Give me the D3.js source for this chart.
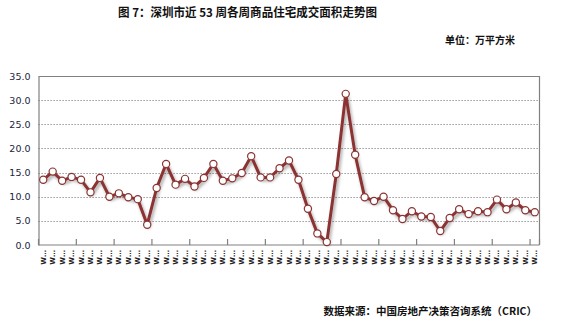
<!DOCTYPE html>
<html>
<head>
<meta charset="utf-8">
<script src="https://cdn.jsdelivr.net/npm/d3@7"></script>
<style>
  html, body { margin: 0; padding: 0; background: #fff; }
  svg { display: block; font-family: "Noto Sans CJK SC", "Noto Sans", sans-serif; }
</style>
</head>
<body>
<svg id="chart" width="577" height="323"></svg>
<script>
// Weekly residential transaction area (10k m²), last 53 weeks
const weeks = d3.range(1, 54).map(i => "W" + i);
const areaValues = [
  13.5, 15.2, 13.3, 14.1, 13.5, 10.9, 13.9, 10.0, 10.7, 9.9,
  9.5, 4.2, 11.8, 16.8, 12.5, 13.7, 12.1, 13.9, 16.8, 13.3,
  13.8, 14.9, 18.4, 14.0, 14.0, 15.9, 17.5, 13.5, 7.5, 2.4,
  0.6, 14.7, 31.3, 18.7, 9.9, 9.1, 10.0, 7.2, 5.4, 7.0,
  5.9, 5.8, 2.9, 5.6, 7.4, 6.4, 7.0, 6.8, 9.4, 7.4,
  8.8, 7.2, 6.8
];
const yTicks = [0, 5, 10, 15, 20, 25, 30, 35];

const titleText = "图 7：深圳市近 53 周各周商品住宅成交面积走势图";
const unitText = "单位：万平方米";
const sourceText = "数据来源：中国房地产决策咨询系统（CRIC）";

const svg = d3.select("#chart");
const plot = { left: 38.5, right: 539.5, top: 76, bottom: 245 };

const x = d3.scaleBand().domain(weeks).range([plot.left, plot.right]).padding(0);
const y = d3.scaleLinear().domain([0, 35]).range([plot.bottom, plot.top]);

// drop shadow for the series line
const defs = svg.append("defs");
const f = defs.append("filter").attr("id", "shadow")
  .attr("x", "-10%").attr("y", "-10%").attr("width", "120%").attr("height", "130%");
f.append("feDropShadow").attr("dx", 1.5).attr("dy", 2.5).attr("stdDeviation", 1.6)
  .attr("flood-color", "#000").attr("flood-opacity", 0.35);

// titles
svg.append("text").attr("x", 247.5).attr("y", 17).attr("text-anchor", "middle")
  .attr("font-size", 12).attr("font-weight", "bold").attr("fill", "#111")
  .attr("textLength", 259).attr("lengthAdjust", "spacingAndGlyphs").text(titleText);
svg.append("text").attr("x", 515).attr("y", 44).attr("text-anchor", "end")
  .attr("font-size", 10).attr("font-weight", "bold").attr("fill", "#111").text(unitText);
svg.append("text").attr("x", 537).attr("y", 315).attr("text-anchor", "end")
  .attr("font-size", 10.5).attr("font-weight", "bold").attr("fill", "#111").text(sourceText);

// gridlines
svg.append("g").selectAll("line").data(yTicks.filter(d => d > 0 && d < 35)).join("line")
  .attr("x1", plot.left).attr("x2", plot.right)
  .attr("y1", d => Math.round(y(d)) + 0.5).attr("y2", d => Math.round(y(d)) + 0.5)
  .attr("stroke", "#7f7f7f").attr("stroke-width", 1).attr("stroke-dasharray", "1.2,1.8");

// plot frame (top and right)
svg.append("path")
  .attr("d", `M${plot.left},${plot.top + 0.5}H${plot.right}V${plot.bottom}`)
  .attr("fill", "none").attr("stroke", "#808080").attr("stroke-width", 1.2);

// y axis
const yAxis = svg.append("g").attr("transform", `translate(${plot.left},0)`)
  .call(d3.axisLeft(y).tickValues(yTicks).tickFormat(d3.format(".1f")).tickSize(0).tickPadding(8));
yAxis.select(".domain").attr("stroke", "#808080").attr("stroke-width", 1.2);
yAxis.selectAll("text").attr("font-family", "Verdana, 'DejaVu Sans', sans-serif")
  .attr("font-size", 9.5).attr("fill", "#1a2440");

// x axis: ticks every 4 weeks at category boundaries
const boundaryTicks = weeks.filter((d, i) => i % 4 === 0);
const xAxis = svg.append("g").attr("transform", `translate(0,${plot.bottom})`);
xAxis.append("line").attr("x1", plot.left).attr("x2", plot.right)
  .attr("stroke", "#808080").attr("stroke-width", 1.2);
xAxis.selectAll(".tk").data(boundaryTicks.concat(["end"])).join("line").attr("class", "tk")
  .attr("x1", d => d === "end" ? plot.right : x(d)).attr("x2", d => d === "end" ? plot.right : x(d))
  .attr("y1", -6).attr("y2", 0).attr("stroke", "#808080").attr("stroke-width", 1.2);
xAxis.selectAll(".lbl").data(weeks).join("text").attr("class", "lbl")
  .attr("transform", d => `translate(${x(d) + x.bandwidth() / 2 + 2.5},5) rotate(-90)`)
  .attr("text-anchor", "end").attr("font-size", 7).attr("font-weight", "bold")
  .attr("font-family", "'DejaVu Sans', sans-serif").attr("fill", "#222")
  .text(d => "W…");

// series line
const cx = (d, i) => x(weeks[i]) + x.bandwidth() / 2;
const line = d3.line().x(cx).y(d => y(d));
svg.append("path").datum(areaValues).attr("d", line)
  .attr("fill", "none").attr("stroke", "#8b3333").attr("stroke-width", 3)
  .attr("stroke-linejoin", "round").attr("filter", "url(#shadow)");

// markers
svg.append("g").selectAll("circle").data(areaValues).join("circle")
  .attr("cx", cx).attr("cy", d => y(d)).attr("r", 3.6)
  .attr("fill", "#fff").attr("stroke", "#8b3333").attr("stroke-width", 1.2);
</script>
</body>
</html>
